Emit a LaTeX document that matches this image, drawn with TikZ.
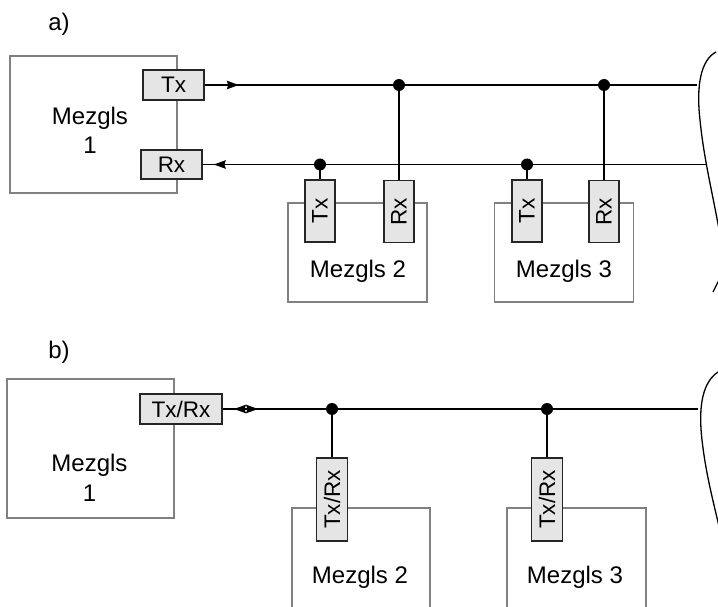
\documentclass[tikz,border=0pt]{standalone}
\usepackage{fontspec}
\setmainfont{Liberation Sans}
\usetikzlibrary{arrows.meta,decorations.markings}
\tikzset{mytip/.tip={Stealth[length=12pt,width=8.5pt,inset=1.5pt]}}
\begin{document}
\begin{tikzpicture}[x=1pt,y=-1pt,
  outer/.style={draw=black!50,line width=1.4pt,rectangle,inner sep=0pt},
  port/.style={draw=black!85,fill=black!10,line width=1.6pt,rectangle,inner sep=0pt,font=\fontsize{22.5}{26}\selectfont},
  vport/.style={port,rotate=90},
  lbl/.style={font=\fontsize{24}{29.5}\selectfont,align=center,inner sep=0pt},
  wire/.style={line width=1.4pt,black},
  dot/.style={circle,fill=black,minimum size=12pt,inner sep=0pt},
  curve/.style={line width=1.3pt,black}
]
\useasboundingbox (0,0) rectangle (718,607);
\begin{scope}
\clip (0,0) rectangle (718,607);
% ---------- panel a ----------
\node[lbl] (la) at (59,24) {a)};
\node[outer,minimum width=167pt,minimum height=137pt] (m1a) at (93.5,124.5) {};
\node[lbl] (m1alabel) at (90,130.5) {Mezgls\\1};
\node[outer,minimum width=139pt,minimum height=99pt] (m2a) at (357.5,252.5) {};
\node[lbl] (m2alabel) at (358,271.5) {Mezgls 2};
\node[outer,minimum width=139pt,minimum height=99pt] (m3a) at (564,252.5) {};
\node[lbl] (m3alabel) at (564,271.5) {Mezgls 3};

\coordinate (topend) at (697,85);
\coordinate (botend) at (706,164.5);
\coordinate (d1) at (399,85);
\coordinate (d2) at (604,85);
\coordinate (d3) at (320,164.5);
\coordinate (d4) at (527,164.5);

\node[port,minimum width=61pt,minimum height=30pt] (tx1) at (173.5,85) {Tx};
\node[port,minimum width=61pt,minimum height=29pt] (rx1) at (171.5,164.5) {Rx};
\node[vport,minimum width=62pt,minimum height=30pt] (n2tx) at (320,211) {Tx};
\node[vport,minimum width=62pt,minimum height=30pt] (n2rx) at (399,211.5) {Rx};
\node[vport,minimum width=62pt,minimum height=30pt] (n3tx) at (527,211) {Tx};
\node[vport,minimum width=62pt,minimum height=30pt] (n3rx) at (604,211.5) {Rx};

\draw[wire,postaction={decorate},decoration={markings,mark=at position 34pt with {\arrow{mytip}}}] (tx1.east) -- (topend);
\draw[wire,postaction={decorate},decoration={markings,mark=at position 11pt with {\arrowreversed{mytip}}}] (rx1.east) -- (botend);
\draw[wire] (d1) -- (n2rx.east);
\draw[wire] (d2) -- (n3rx.east);
\draw[wire] (d3) -- (n2tx.east);
\draw[wire] (d4) -- (n3tx.east);
\node[dot] at (d1) {};
\node[dot] at (d2) {};
\node[dot] at (d3) {};
\node[dot] at (d4) {};

\draw[curve] (716,52) .. controls (701,60) and (696,85) .. (700,120) .. controls (704,160) and (712,190) .. (721,240);
\draw[curve] (713,292) -- (721,276);

% ---------- panel b ----------
\node[lbl] (lb) at (59,352) {b)};
\node[outer,minimum width=167pt,minimum height=139pt] (m1b) at (90.5,448.5) {};
\node[lbl] (m1blabel) at (89.5,478) {Mezgls\\1};
\draw[outer] (292,508) rectangle (430,640);
\draw[outer] (507,508) rectangle (646,640);
\node[lbl] (m2blabel) at (360,577) {Mezgls 2};
\node[lbl] (m3blabel) at (575,577) {Mezgls 3};

\coordinate (bend) at (698,409);
\coordinate (e1) at (332,409);
\coordinate (e2) at (547,409);
\coordinate (al) at (234,409);
\coordinate (ar) at (258,409);

\node[port,minimum width=82pt,minimum height=30pt] (trx1) at (181,409) {Tx/Rx};
\node[vport,minimum width=83pt,minimum height=31pt] (trx2) at (332,499.5) {Tx/Rx};
\node[vport,minimum width=83pt,minimum height=31pt] (trx3) at (547,499.5) {Tx/Rx};

\draw[wire] (trx1.east) -- (bend);
\draw[wire,mytip-mytip] (al) -- (ar);
\draw[wire] (e1) -- (trx2.east);
\draw[wire] (e2) -- (trx3.east);
\node[dot] at (e1) {};
\node[dot] at (e2) {};

\draw[curve] (718,372) .. controls (703,382) and (698,405) .. (702,440) .. controls (706,475) and (713,500) .. (721,535);
\end{scope}
\end{tikzpicture}
\end{document}
